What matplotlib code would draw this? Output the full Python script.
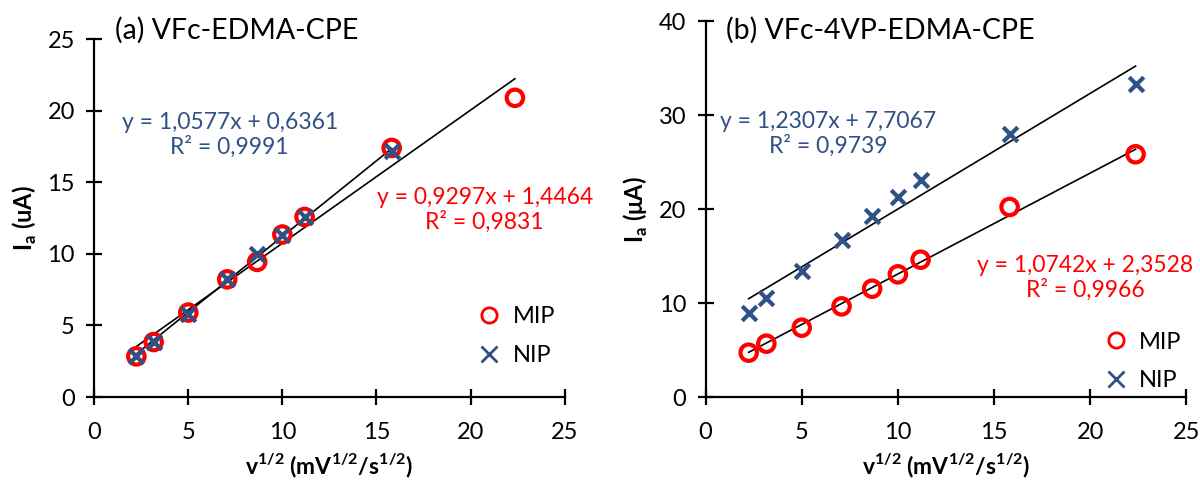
import matplotlib
matplotlib.use("Agg")
import matplotlib.pyplot as plt
from matplotlib.lines import Line2D
import numpy as np

plt.rcParams['font.family'] = ['Lato', 'DejaVu Sans']
plt.rcParams['mathtext.fontset'] = 'custom'
plt.rcParams['mathtext.rm'] = 'Lato'
plt.rcParams['mathtext.bf'] = 'Lato:bold'

# sqrt of scan rate
x_vals = [2.24, 3.16, 5.0, 7.07, 8.66, 10.0, 11.18, 15.81, 22.36]

# (a) VFc-EDMA-CPE
a_mip = [2.84, 3.84, 5.9, 8.22, 9.44, 11.35, 12.58, 17.4, 20.9]
a_nip = [2.9, 3.84, 5.82, 8.22, 10.02, 11.35, 12.58, 17.2]
a_mip_fit = (0.9297, 1.4464)
a_nip_fit = (1.0577, 0.6361)

# (b) VFc-4VP-EDMA-CPE
b_mip = [4.72, 5.68, 7.38, 9.65, 11.53, 13.06, 14.62, 20.23, 25.84]
b_nip = [8.94, 10.58, 13.38, 16.75, 19.24, 21.3, 23.14, 28.04, 33.29]
b_mip_fit = (1.0742, 2.3528)
b_nip_fit = (1.2307, 7.7067)

red = "#FF0000"
blue = "#2F5185"

fig = plt.figure(figsize=(12, 4.83), dpi=100)
ax_a = fig.add_axes([0.0785, 0.178, 0.392, 0.741])
ax_b = fig.add_axes([0.588, 0.178, 0.4006, 0.778])

xlab = r"v$^{\mathbf{1/2}}$ (mV$^{\mathbf{1/2}}$/s$^{\mathbf{1/2}}$)"


def style_axes(ax, ymax, ystep):
    ax.set_xlim(0, 25)
    ax.set_ylim(0, ymax)
    ax.set_xticks(np.arange(0, 26, 5))
    ax.set_yticks(np.arange(0, ymax + 1, ystep))
    for s in ["top", "right"]:
        ax.spines[s].set_visible(False)
    for s in ["left", "bottom"]:
        ax.spines[s].set_linewidth(1.6)
    ax.tick_params(direction="inout", length=12, width=1.6, labelsize=17)
    ax.tick_params(axis="x", pad=12)
    ax.tick_params(axis="y", pad=8)
    ax.set_xlabel(xlab, fontsize=16.5, fontweight="bold", labelpad=6)


def draw_fit(ax, coef, xs):
    xs = np.array([xs[0], xs[-1]])
    ax.plot(xs, coef[0] * xs + coef[1], color="black", lw=1.2, zorder=1)


def add_legend(ax, anchor):
    handles = [
        Line2D([], [], ls="none", marker="o", ms=11, mfc="none", mec=red, mew=2.0, label="MIP"),
        Line2D([], [], ls="none", marker="x", ms=11, color=blue, mew=2.0, label="NIP"),
    ]
    ax.legend(handles=handles, loc="lower right", bbox_to_anchor=anchor, frameon=False,
              fontsize=17, handletextpad=0.0, labelspacing=0.75, borderaxespad=0)


# panel a
ax = ax_a
draw_fit(ax, a_nip_fit, x_vals[:len(a_nip)])
draw_fit(ax, a_mip_fit, x_vals)
ax.scatter(x_vals, a_mip, s=140, facecolors="none", edgecolors=red, linewidths=3, zorder=2)
ax.scatter(x_vals[:len(a_nip)], a_nip, s=110, marker="x", color=blue, linewidths=3, zorder=3)
style_axes(ax, 25, 5)
ax.set_ylabel(r"I$_{\mathbf{a}}$ (uA)", fontsize=17, fontweight="bold", labelpad=6)
ax.text(0.045, 1.025, "(a) VFc-EDMA-CPE", transform=ax.transAxes, fontsize=20.5, va="center", ha="left")
ax.text(0.288, 0.732, "y = 1,0577x + 0,6361\nR² = 0,9991", transform=ax.transAxes, fontsize=16.5,
        color=blue, ha="center", va="center", linespacing=1.15)
ax.text(0.83, 0.522, "y = 0,9297x + 1,4464\nR² = 0,9831", transform=ax.transAxes, fontsize=16.5,
        color=red, ha="center", va="center", linespacing=1.15)
add_legend(ax, (1.0, 0.06))

# panel b
ax = ax_b
draw_fit(ax, b_nip_fit, x_vals)
draw_fit(ax, b_mip_fit, x_vals)
ax.scatter(x_vals, b_mip, s=140, facecolors="none", edgecolors=red, linewidths=3, zorder=2)
ax.scatter(x_vals, b_nip, s=110, marker="x", color=blue, linewidths=3, zorder=3)
style_axes(ax, 40, 10)
ax.set_ylabel(r"I$_{\mathbf{a}}$ ($\mathbf{\mu}$A)", fontsize=17, fontweight="bold", labelpad=6)
ax.text(0.043, 0.976, "(b) VFc-4VP-EDMA-CPE", transform=ax.transAxes, fontsize=20.5, va="center", ha="left")
ax.text(0.255, 0.70, "y = 1,2307x + 7,7067\nR² = 0,9739", transform=ax.transAxes, fontsize=16.5,
        color=blue, ha="center", va="center", linespacing=1.15)
ax.text(0.79, 0.316, "y = 1,0742x + 2,3528\nR² = 0,9966", transform=ax.transAxes, fontsize=16.5,
        color=red, ha="center", va="center", linespacing=1.15)
add_legend(ax, (1.01, -0.01))

fig.savefig("out.png", dpi=100)
